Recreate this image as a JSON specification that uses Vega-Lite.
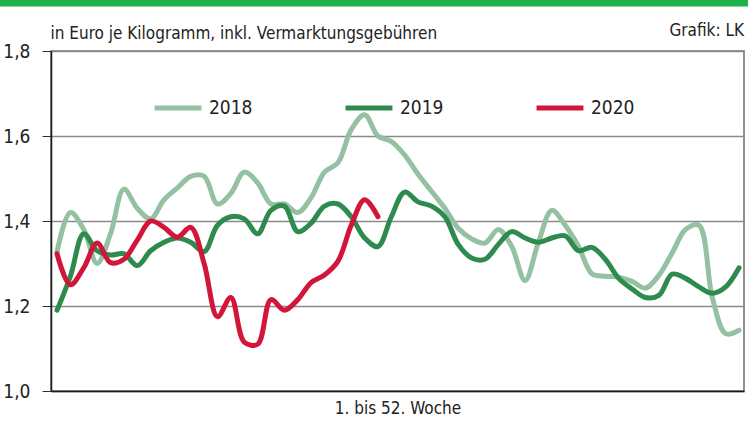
{
  "$schema": "https://vega.github.io/schema/vega-lite/v6.json",
  "width": 693,
  "height": 340,
  "autosize": {"type": "none"},
  "padding": {"left": 51, "top": 51, "right": 4, "bottom": 31},
  "background": "white",
  "title": {"text": "Grafik: LK", "anchor": "end", "frame": "group", "fontSize": 17, "font": "DejaVu Sans Condensed, Roboto, sans-serif", "fontWeight": "normal", "color": "#222222", "offset": -48},
  "config": {
    "view": {"stroke": "#6e6e6e", "strokeWidth": 1.5},
    "font": "DejaVu Sans Condensed, Roboto, sans-serif"
  },
  "layer": [
    {
      "data": {"values": [
        {"year": "2018", "week": 1, "price": 1.327}, {"year": "2018", "week": 2, "price": 1.42}, {"year": "2018", "week": 3, "price": 1.38}, {"year": "2018", "week": 4, "price": 1.30},
        {"year": "2018", "week": 5, "price": 1.37}, {"year": "2018", "week": 6, "price": 1.475}, {"year": "2018", "week": 7, "price": 1.43}, {"year": "2018", "week": 8, "price": 1.405},
        {"year": "2018", "week": 9, "price": 1.45}, {"year": "2018", "week": 10, "price": 1.478}, {"year": "2018", "week": 11, "price": 1.505}, {"year": "2018", "week": 12, "price": 1.505},
        {"year": "2018", "week": 13, "price": 1.44}, {"year": "2018", "week": 14, "price": 1.465}, {"year": "2018", "week": 15, "price": 1.515}, {"year": "2018", "week": 16, "price": 1.49},
        {"year": "2018", "week": 17, "price": 1.44}, {"year": "2018", "week": 18, "price": 1.44}, {"year": "2018", "week": 19, "price": 1.42}, {"year": "2018", "week": 20, "price": 1.455},
        {"year": "2018", "week": 21, "price": 1.515}, {"year": "2018", "week": 22, "price": 1.537}, {"year": "2018", "week": 23, "price": 1.615}, {"year": "2018", "week": 24, "price": 1.65},
        {"year": "2018", "week": 25, "price": 1.60}, {"year": "2018", "week": 26, "price": 1.587}, {"year": "2018", "week": 27, "price": 1.555}, {"year": "2018", "week": 28, "price": 1.51},
        {"year": "2018", "week": 29, "price": 1.47}, {"year": "2018", "week": 30, "price": 1.43}, {"year": "2018", "week": 31, "price": 1.383}, {"year": "2018", "week": 32, "price": 1.358},
        {"year": "2018", "week": 33, "price": 1.348}, {"year": "2018", "week": 34, "price": 1.38}, {"year": "2018", "week": 35, "price": 1.34}, {"year": "2018", "week": 36, "price": 1.26},
        {"year": "2018", "week": 37, "price": 1.35}, {"year": "2018", "week": 38, "price": 1.425}, {"year": "2018", "week": 39, "price": 1.39}, {"year": "2018", "week": 40, "price": 1.34},
        {"year": "2018", "week": 41, "price": 1.276}, {"year": "2018", "week": 42, "price": 1.27}, {"year": "2018", "week": 43, "price": 1.268}, {"year": "2018", "week": 44, "price": 1.258},
        {"year": "2018", "week": 45, "price": 1.242}, {"year": "2018", "week": 46, "price": 1.272}, {"year": "2018", "week": 47, "price": 1.325}, {"year": "2018", "week": 48, "price": 1.38},
        {"year": "2018", "week": 49, "price": 1.39}, {"year": "2018", "week": 50, "price": 1.22}, {"year": "2018", "week": 51, "price": 1.135}, {"year": "2018", "week": 52, "price": 1.143},
        {"year": "2019", "week": 1, "price": 1.19}, {"year": "2019", "week": 2, "price": 1.27}, {"year": "2019", "week": 3, "price": 1.37}, {"year": "2019", "week": 4, "price": 1.33},
        {"year": "2019", "week": 5, "price": 1.32}, {"year": "2019", "week": 6, "price": 1.323}, {"year": "2019", "week": 7, "price": 1.295}, {"year": "2019", "week": 8, "price": 1.33},
        {"year": "2019", "week": 9, "price": 1.35}, {"year": "2019", "week": 10, "price": 1.36}, {"year": "2019", "week": 11, "price": 1.35}, {"year": "2019", "week": 12, "price": 1.328},
        {"year": "2019", "week": 13, "price": 1.39}, {"year": "2019", "week": 14, "price": 1.41}, {"year": "2019", "week": 15, "price": 1.405}, {"year": "2019", "week": 16, "price": 1.37},
        {"year": "2019", "week": 17, "price": 1.425}, {"year": "2019", "week": 18, "price": 1.435}, {"year": "2019", "week": 19, "price": 1.375}, {"year": "2019", "week": 20, "price": 1.395},
        {"year": "2019", "week": 21, "price": 1.435}, {"year": "2019", "week": 22, "price": 1.44}, {"year": "2019", "week": 23, "price": 1.41}, {"year": "2019", "week": 24, "price": 1.36},
        {"year": "2019", "week": 25, "price": 1.34}, {"year": "2019", "week": 26, "price": 1.41}, {"year": "2019", "week": 27, "price": 1.468}, {"year": "2019", "week": 28, "price": 1.445},
        {"year": "2019", "week": 29, "price": 1.435}, {"year": "2019", "week": 30, "price": 1.41}, {"year": "2019", "week": 31, "price": 1.345}, {"year": "2019", "week": 32, "price": 1.313},
        {"year": "2019", "week": 33, "price": 1.31}, {"year": "2019", "week": 34, "price": 1.345}, {"year": "2019", "week": 35, "price": 1.375}, {"year": "2019", "week": 36, "price": 1.36},
        {"year": "2019", "week": 37, "price": 1.35}, {"year": "2019", "week": 38, "price": 1.36}, {"year": "2019", "week": 39, "price": 1.365}, {"year": "2019", "week": 40, "price": 1.33},
        {"year": "2019", "week": 41, "price": 1.338}, {"year": "2019", "week": 42, "price": 1.31}, {"year": "2019", "week": 43, "price": 1.265}, {"year": "2019", "week": 44, "price": 1.24},
        {"year": "2019", "week": 45, "price": 1.22}, {"year": "2019", "week": 46, "price": 1.225}, {"year": "2019", "week": 47, "price": 1.275}, {"year": "2019", "week": 48, "price": 1.265},
        {"year": "2019", "week": 49, "price": 1.245}, {"year": "2019", "week": 50, "price": 1.23}, {"year": "2019", "week": 51, "price": 1.245}, {"year": "2019", "week": 52, "price": 1.29},
        {"year": "2020", "week": 1, "price": 1.323}, {"year": "2020", "week": 2, "price": 1.25}, {"year": "2020", "week": 3, "price": 1.29}, {"year": "2020", "week": 4, "price": 1.348},
        {"year": "2020", "week": 5, "price": 1.302}, {"year": "2020", "week": 6, "price": 1.31}, {"year": "2020", "week": 7, "price": 1.355}, {"year": "2020", "week": 8, "price": 1.40},
        {"year": "2020", "week": 9, "price": 1.385}, {"year": "2020", "week": 10, "price": 1.362}, {"year": "2020", "week": 11, "price": 1.385}, {"year": "2020", "week": 12, "price": 1.30},
        {"year": "2020", "week": 13, "price": 1.175}, {"year": "2020", "week": 14, "price": 1.22}, {"year": "2020", "week": 15, "price": 1.115}, {"year": "2020", "week": 16, "price": 1.11},
        {"year": "2020", "week": 17, "price": 1.215}, {"year": "2020", "week": 18, "price": 1.19}, {"year": "2020", "week": 19, "price": 1.215}, {"year": "2020", "week": 20, "price": 1.255},
        {"year": "2020", "week": 21, "price": 1.273}, {"year": "2020", "week": 22, "price": 1.305}, {"year": "2020", "week": 23, "price": 1.39}, {"year": "2020", "week": 24, "price": 1.45},
        {"year": "2020", "week": 25, "price": 1.41}
      ]},
      "mark": {"type": "line", "interpolate": "catmull-rom", "strokeWidth": 5, "strokeCap": "round", "strokeJoin": "round"},
      "encoding": {
        "x": {
          "field": "week", "type": "quantitative",
          "scale": {"domain": [0.55, 52.37], "nice": false, "zero": false},
          "axis": {"title": "1. bis 52. Woche", "labels": false, "ticks": false, "grid": false, "domainColor": "#1a1a1a", "domainWidth": 1.5, "titleFontSize": 17, "titleFontWeight": "normal", "titleColor": "#222222", "titlePadding": 9, "titleFont": "DejaVu Sans Condensed, Roboto, sans-serif"}
        },
        "y": {
          "field": "price", "type": "quantitative",
          "scale": {"domain": [1.0, 1.8], "nice": false, "zero": false},
          "axis": {
            "values": [1.0, 1.2, 1.4, 1.6, 1.8],
            "labelExpr": "replace(format(datum.value, '.1f'), '.', ',')",
            "labelFontSize": 19, "labelColor": "#222222", "labelPadding": 12, "labelFont": "DejaVu Sans Condensed, Roboto, sans-serif",
            "tickSize": 9, "tickColor": "#333333", "tickWidth": 1,
            "domainColor": "#1a1a1a", "domainWidth": 1.5,
            "gridColor": "#8a8a8a", "gridWidth": 1.5,
            "title": "in Euro je Kilogramm, inkl. Vermarktungsgebühren",
            "titleAngle": 0, "titleAlign": "left", "titleBaseline": "alphabetic",
            "titleX": -1, "titleY": -13, "titleFontSize": 17, "titleFontWeight": "normal", "titleColor": "#222222", "titleFont": "DejaVu Sans Condensed, Roboto, sans-serif"
          }
        },
        "color": {
          "field": "year", "type": "nominal",
          "scale": {"domain": ["2018", "2019", "2020"], "range": ["#94c1a2", "#2f8a4e", "#d2163a"]},
          "legend": {
            "orient": "none", "legendX": 101, "legendY": 31, "direction": "horizontal", "title": null,
            "symbolType": "stroke", "symbolSize": 2200, "symbolStrokeWidth": 5,
            "labelFontSize": 19, "labelOffset": 5, "labelColor": "#222222", "labelFont": "DejaVu Sans Condensed, Roboto, sans-serif",
            "columnPadding": 82
          }
        }
      }
    },
    {
      "data": {"values": [{}]},
      "mark": {"type": "rect", "color": "#21b14b", "clip": false},
      "encoding": {
        "x": {"datum": -5, "type": "quantitative"},
        "x2": {"datum": 56},
        "y": {"datum": 1.905, "type": "quantitative"},
        "y2": {"datum": 1.94}
      }
    }
  ]
}
